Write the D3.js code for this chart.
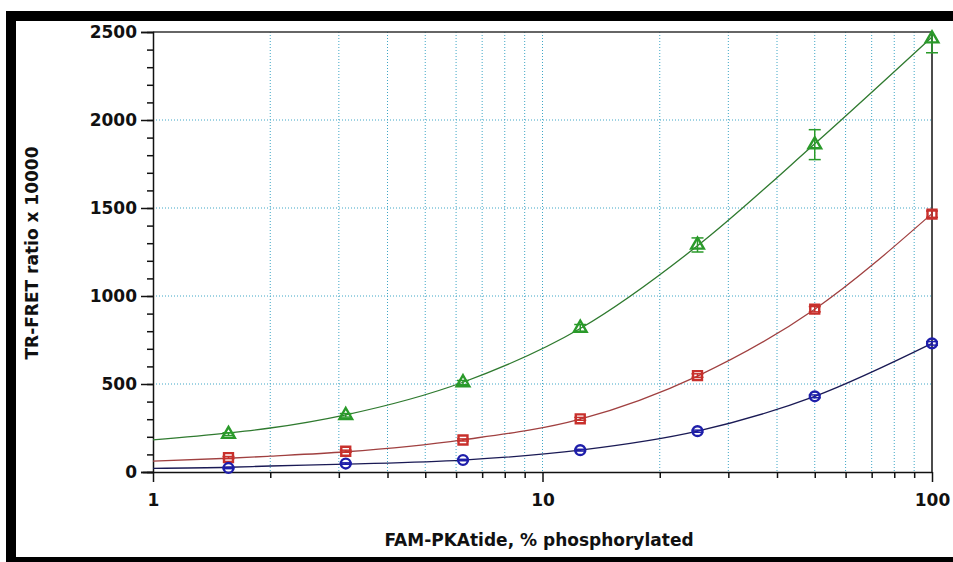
<!DOCTYPE html>
<html>
<head>
<meta charset="utf-8">
<script src="https://cdn.jsdelivr.net/npm/d3@7"></script>
<style>
  body { margin: 0; background: #fff; }
  text { font-family: "DejaVu Sans", "Liberation Sans", Arial, sans-serif; font-weight: bold; fill: #111; }
</style>
</head>
<body>
<svg id="chart" width="953" height="562"></svg>
<script>
// x positions (% phosphorylated)
let xValues = [1.5625, 3.125, 6.25, 12.5, 25, 50, 100]
// measured points
let greenY = [215, 322, 508, 818, 1290, 1860, 2462]
let greenErr = [8, 10, 12, 20, 40, 85, 80]
let redY = [82, 118, 182, 302, 548, 925, 1465]
let redErr = [6, 6, 6, 8, 10, 15, 18]
let blueY = [23, 48, 68, 124, 232, 430, 731]
let blueErr = [4, 4, 4, 5, 6, 8, 10]
// fitted curves
let curveX = [1, 1.5625, 2, 3.125, 6.25, 12.5, 25, 50, 100]
let greenCurve = [182, 222, 250, 325, 510, 815, 1285, 1865, 2472]
let redCurve = [62, 78, 90, 115, 183, 300, 545, 925, 1468]
let blueCurve = [21, 27, 34, 45, 68, 124, 232, 430, 731]
let yTicks = [0, 500, 1000, 1500, 2000, 2500]
let xTickLabels = [1, 10, 100]

let svg = d3.select("#chart")
let pLeft = 153, pRight = 932, pTop = 32, pBottom = 472

let x = d3.scaleLog().domain([1, 100]).range([pLeft, pRight])
let y = d3.scaleLinear().domain([0, 2500]).range([pBottom, pTop])

// black frame
svg.append("rect").attr("x", 6).attr("y", 11).attr("width", 947).attr("height", 10).attr("fill", "#000")
svg.append("rect").attr("x", 6).attr("y", 11).attr("width", 10).attr("height", 551).attr("fill", "#000")
svg.append("rect").attr("x", 6).attr("y", 557).attr("width", 947).attr("height", 5).attr("fill", "#000")

// grid
let gridColor = "#3fa6c6"
let xGrid = [2, 3, 4, 5, 6, 7, 8, 9, 10, 20, 30, 40, 50, 60, 70, 80, 90]
svg.append("g").selectAll("line").data(xGrid).enter().append("line")
    .attr("x1", d => x(d)).attr("x2", d => x(d)).attr("y1", pTop).attr("y2", pBottom)
    .attr("stroke", gridColor).attr("stroke-width", 1).attr("stroke-dasharray", "1,2")
svg.append("g").selectAll("line").data(yTicks.slice(1, -1)).enter().append("line")
    .attr("x1", pLeft).attr("x2", pRight).attr("y1", d => y(d)).attr("y2", d => y(d))
    .attr("stroke", gridColor).attr("stroke-width", 1).attr("stroke-dasharray", "1,2")

// frame lines
svg.append("line").attr("x1", pLeft).attr("x2", pRight).attr("y1", pTop).attr("y2", pTop).attr("stroke", "#333").attr("stroke-width", 1.5)
svg.append("line").attr("x1", pRight).attr("x2", pRight).attr("y1", pTop).attr("y2", pBottom).attr("stroke", "#111").attr("stroke-width", 1.5)

// y axis
let yMinor = d3.range(0, 2501, 100)
svg.append("g").attr("transform", `translate(${pLeft},0)`)
    .call(d3.axisLeft(y).tickValues(yMinor).tickSize(6).tickFormat(""))
    .call(g => g.select(".domain").remove())
    .selectAll("line").attr("stroke", "#111").attr("stroke-width", 1.5)
svg.append("g").attr("transform", `translate(${pLeft},0)`)
    .call(d3.axisLeft(y).tickValues(yTicks).tickSize(12).tickPadding(4).tickFormat(d3.format("d")))
    .call(g => g.select(".domain").attr("stroke", "#111").attr("stroke-width", 1.5))
    .call(g => g.selectAll("line").attr("stroke", "#111").attr("stroke-width", 1.5))
    .call(g => g.selectAll("text").style("font-size", "17px").attr("fill", "#111"))

// x axis
let xMinor = [2, 3, 4, 5, 6, 7, 8, 9, 20, 30, 40, 50, 60, 70, 80, 90]
svg.append("g").attr("transform", `translate(0,${pBottom})`)
    .call(d3.axisBottom(x).tickValues(xMinor).tickSize(6).tickFormat(""))
    .call(g => g.select(".domain").remove())
    .selectAll("line").attr("stroke", "#111").attr("stroke-width", 1.5)
svg.append("g").attr("transform", `translate(0,${pBottom})`)
    .call(d3.axisBottom(x).tickValues(xTickLabels).tickSize(10).tickPadding(12).tickFormat(d3.format("d")))
    .call(g => g.select(".domain").attr("stroke", "#111").attr("stroke-width", 1.5).attr("d", `M${pLeft - 10},0.5H${pRight}`))
    .call(g => g.selectAll("line").attr("stroke", "#111").attr("stroke-width", 1.5))
    .call(g => g.selectAll("text").style("font-size", "17px").attr("fill", "#111"))

// titles
svg.append("text").attr("x", 539).attr("y", 546).attr("text-anchor", "middle")
    .style("font-size", "17px").text("FAM-PKAtide, % phosphorylated")
svg.append("text").attr("transform", "translate(38,253) rotate(-90)").attr("text-anchor", "middle")
    .style("font-size", "17px").text("TR-FRET ratio x 10000")

let series = [
    { name: "green", y: greenY, err: greenErr, curve: greenCurve, line: "#2f7a2f", mark: "#2a9a2a", shape: "triangle" },
    { name: "red", y: redY, err: redErr, curve: redCurve, line: "#a04040", mark: "#c8302c", shape: "square" },
    { name: "blue", y: blueY, err: blueErr, curve: blueCurve, line: "#1a1a55", mark: "#1e1eaa", shape: "circle" }
]

let line = d3.line().x(d => x(d[0])).y(d => y(d[1])).curve(d3.curveMonotoneX)
let plot = svg.append("g")

series.forEach(s => {
    plot.append("path").datum(curveX.map((cx, i) => [cx, s.curve[i]]))
        .attr("d", line).attr("fill", "none").attr("stroke", s.line).attr("stroke-width", 1.3)

    let pts = xValues.map((xv, i) => ({ x: xv, y: s.y[i], e: s.err[i] }))
    let eb = plot.append("g").selectAll("g").data(pts).enter().append("g")
    eb.append("line").attr("x1", d => x(d.x)).attr("x2", d => x(d.x))
        .attr("y1", d => y(Math.min(2500, d.y + d.e))).attr("y2", d => y(d.y - d.e))
        .attr("stroke", s.mark).attr("stroke-width", 1.5)
    eb.append("line").attr("x1", d => x(d.x) - 6).attr("x2", d => x(d.x) + 6)
        .attr("y1", d => y(d.y + d.e)).attr("y2", d => y(d.y + d.e))
        .attr("stroke", s.mark).attr("stroke-width", 1.5)
        .style("display", d => d.y + d.e > 2500 ? "none" : null)
    eb.append("line").attr("x1", d => x(d.x) - 6).attr("x2", d => x(d.x) + 6)
        .attr("y1", d => y(d.y - d.e)).attr("y2", d => y(d.y - d.e))
        .attr("stroke", s.mark).attr("stroke-width", 1.5)

    let sym = s.shape === "triangle" ? d3.symbolTriangle : s.shape === "square" ? d3.symbolSquare : d3.symbolCircle
    let size = s.shape === "triangle" ? 70 : s.shape === "square" ? 80 : 75
    plot.append("g").selectAll("path").data(pts).enter().append("path")
        .attr("d", d3.symbol().type(sym).size(size))
        .attr("transform", d => `translate(${x(d.x)},${y(d.y)})`)
        .attr("fill", "none").attr("stroke", s.mark).attr("stroke-width", 2.4)
})
</script>
</body>
</html>
